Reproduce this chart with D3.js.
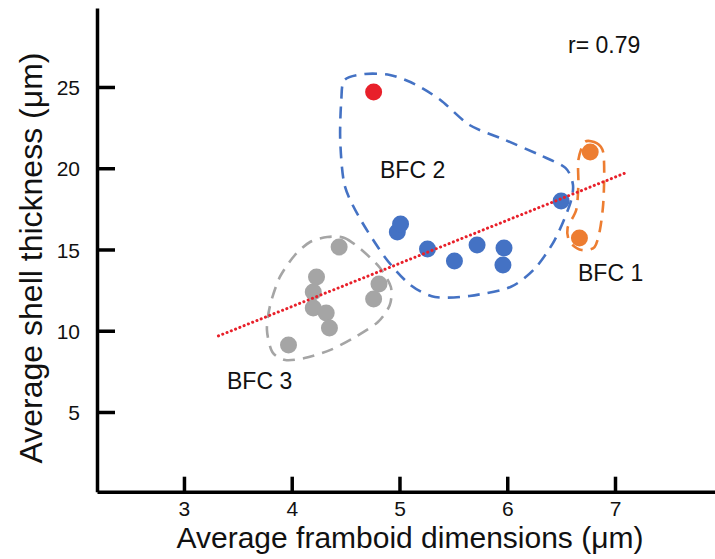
<!DOCTYPE html>
<html>
<head>
<meta charset="utf-8">
<script src="https://cdn.jsdelivr.net/npm/d3@7"></script>
<style>
  body { margin: 0; background: #fff; }
  svg { display: block; font-family: "Liberation Sans", Arial, sans-serif; }
</style>
</head>
<body>
<div id="chart"></div>
<script>
// framboid size (x) vs shell thickness (y)
const bfc3X = [4.44, 4.23, 4.20, 4.20, 4.32, 4.35, 4.81, 4.76, 3.97];
const bfc3Y = [15.15, 13.31, 12.38, 11.40, 11.09, 10.17, 12.88, 11.95, 9.12];
const bfc2X = [4.98, 5.01, 5.26, 5.51, 5.72, 5.97, 5.96, 6.50];
const bfc2Y = [16.08, 16.57, 15.03, 14.29, 15.28, 15.09, 14.05, 17.98];
const outlierX = [4.76];
const outlierY = [24.69];
const bfc1X = [6.77, 6.67];
const bfc1Y = [21.0, 15.71];

// regression line end points
const trendX = [3.32, 7.12];
const trendY = [9.68, 19.77];

// hand-drawn group outlines (data units)
const hull2X = [4.49, 4.68, 4.91, 5.14, 5.38, 5.65, 5.98, 6.30, 6.54, 6.61, 6.58, 6.44, 6.26, 6.03, 5.65, 5.33, 5.10, 4.87, 4.63, 4.49, 4.45, 4.46];
const hull2Y = [25.43, 25.80, 25.74, 25.18, 24.20, 22.66, 21.74, 20.82, 20.02, 18.97, 17.74, 15.58, 13.86, 12.69, 12.14, 12.08, 12.82, 14.48, 16.94, 18.97, 21.74, 24.20];
const hull3X = [4.33, 4.49, 4.65, 4.82, 4.92, 4.91, 4.80, 4.59, 4.36, 4.12, 3.94, 3.82, 3.77, 3.80, 3.89, 4.03, 4.17];
const hull3Y = [15.77, 15.71, 14.97, 13.86, 12.69, 11.58, 10.54, 9.62, 8.82, 8.32, 8.20, 8.69, 10.05, 11.58, 13.31, 14.66, 15.46];
const hull1X = [6.72, 6.83, 6.89, 6.90, 6.89, 6.86, 6.81, 6.69, 6.58, 6.56, 6.64, 6.66, 6.66];
const hull1Y = [21.62, 21.55, 21.0, 19.58, 17.74, 16.20, 15.15, 14.97, 15.46, 16.33, 17.43, 18.97, 20.51];

const xTicks = [3, 4, 5, 6, 7];
const yTicks = [5, 10, 15, 20, 25];

const width = 715, height = 559;

function drawChart() {
  const svg = d3.select("#chart")
    .append("svg")
    .attr("width", width)
    .attr("height", height);

  const x = d3.scaleLinear().domain([2.193, 7.928]).range([97, 715]);
  const y = d3.scaleLinear().domain([0.095, 29.86]).range([491.7, 8]);

  const zip = (xs, ys) => xs.map((v, i) => [v, ys[i]]);
  const line = d3.line().x(d => x(d[0])).y(d => y(d[1]));
  const hullLine = d3.line().x(d => x(d[0])).y(d => y(d[1])).curve(d3.curveCardinalClosed.tension(0.2));

  // outlines
  const hulls = [
    { pts: zip(hull2X, hull2Y), color: "#4472C4" },
    { pts: zip(hull3X, hull3Y), color: "#A5A5A5" },
    { pts: zip(hull1X, hull1Y), color: "#ED7D31" }
  ];
  svg.append("g").selectAll("path")
    .data(hulls)
    .join("path")
    .attr("d", d => hullLine(d.pts))
    .attr("fill", "none")
    .attr("stroke", d => d.color)
    .attr("stroke-width", 2.6)
    .attr("stroke-dasharray", "12 8");

  // points
  const groups = [
    { pts: zip(bfc3X, bfc3Y), color: "#A5A5A5" },
    { pts: zip(bfc2X, bfc2Y), color: "#4472C4" },
    { pts: zip(outlierX, outlierY), color: "#E8202A" },
    { pts: zip(bfc1X, bfc1Y), color: "#ED7D31" }
  ];
  groups.forEach(gr => {
    svg.append("g").selectAll("circle")
      .data(gr.pts)
      .join("circle")
      .attr("cx", d => x(d[0]))
      .attr("cy", d => y(d[1]))
      .attr("r", 8.5)
      .attr("fill", gr.color);
  });

  // trend line
  svg.append("path")
    .attr("d", line(zip(trendX, trendY)))
    .attr("fill", "none")
    .attr("stroke", "#E8202A")
    .attr("stroke-width", 3)
    .attr("stroke-linecap", "round")
    .attr("stroke-dasharray", "0.1 4.5");

  // axes
  const xAxis = svg.append("g")
    .attr("transform", `translate(0,${y.range()[0]})`)
    .call(d3.axisBottom(x).tickValues(xTicks).tickFormat(d3.format("d"))
      .tickSizeInner(-15).tickSizeOuter(0).tickPadding(9));
  const yAxis = svg.append("g")
    .attr("transform", `translate(${x.range()[0]},0)`)
    .call(d3.axisLeft(y).tickValues(yTicks).tickFormat(d3.format("d"))
      .tickSizeInner(-18).tickSizeOuter(0).tickPadding(17));

  [xAxis, yAxis].forEach(ax => {
    ax.select(".domain").attr("stroke", "#000").attr("stroke-width", 3.5);
    ax.selectAll(".tick line").attr("stroke", "#000").attr("stroke-width", 3.5);
    ax.selectAll(".tick text")
      .attr("font-family", "Liberation Sans, Arial, sans-serif")
      .attr("font-size", "21px")
      .attr("fill", "#111");
  });
  yAxis.selectAll(".tick text").attr("dy", "0.36em");

  // axis titles
  svg.append("text")
    .attr("x", 410)
    .attr("y", 548)
    .attr("text-anchor", "middle")
    .attr("font-size", "30px")
    .attr("fill", "#111")
    .text("Average framboid dimensions (μm)");

  svg.append("text")
    .attr("transform", "translate(42,258) rotate(-90)")
    .attr("text-anchor", "middle")
    .attr("font-size", "32px")
    .attr("fill", "#111")
    .text("Average shell thickness (μm)");

  // annotations
  const notes = [
    { t: "r= 0.79", x: 568, y: 53 },
    { t: "BFC 2", x: 380, y: 178 },
    { t: "BFC 1", x: 578, y: 281 },
    { t: "BFC 3", x: 227, y: 389 }
  ];
  svg.append("g").selectAll("text")
    .data(notes)
    .join("text")
    .attr("x", d => d.x)
    .attr("y", d => d.y)
    .attr("font-size", "23px")
    .attr("fill", "#111")
    .text(d => d.t);
}

drawChart();
</script>
</body>
</html>
